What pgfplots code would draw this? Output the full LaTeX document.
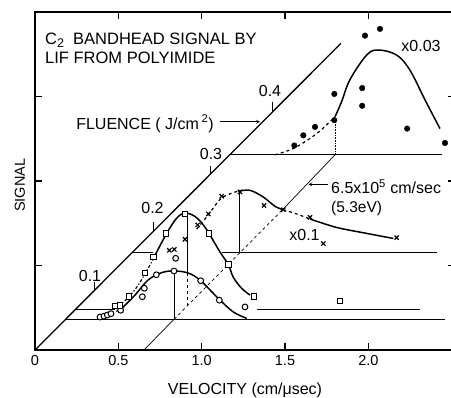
\documentclass[border=0pt]{standalone}
\usepackage{pgfplots}
\pgfplotsset{compat=1.18}
\usepackage{fontspec}
\setmainfont{Liberation Sans}
\newcommand\fa{\fontsize{16.5}{19}\selectfont}
\newcommand\fb{\fontsize{16}{19}\selectfont}
\newcommand\fc{\fontsize{14.5}{17}\selectfont}
\begin{document}
\begin{tikzpicture}[x=1pt,y=1pt]
\path[use as bounding box] (0,0) rectangle (451,398);
\clip (0,0) rectangle (451,398);
\begin{axis}[
  at={(35pt,48pt)}, anchor=south west,
  scale only axis, width=420pt, height=338pt,
  xmin=0, xmax=2.52, ymin=0, ymax=4,
  clip=false,
  axis line style={line width=1.3pt},
  tick align=inside,
  major tick length=7pt,
  tick style={line width=1.1pt, black},
  xtick={0,0.5,1,1.5,2},
  xticklabels={0,0.5,1.0,1.5,2.0},
  ytick={1,2,3}, yticklabels={},
  /pgf/number format/assume math mode=true,
  ticklabel style={font=\fc},
  xticklabel style={yshift=-2pt},
]
% fluence diagonal
\addplot[black, line width=1.3pt] coordinates {(0,0) (1.836,3.63)};
% fluence ticks
\addplot[black, line width=1pt] coordinates {(0.356,0.704) (0.356,0.81)};
\addplot[black, line width=1pt] coordinates {(0.71,1.404) (0.71,1.52)};
\addplot[black, line width=1pt] coordinates {(1.055,2.086) (1.055,2.18)};
\addplot[black, line width=1pt] coordinates {(1.426,2.819) (1.426,2.93)};
% baselines
\addplot[black, line width=0.9pt] coordinates {(0.185,0.365) (2.46,0.365)};
\addplot[black, line width=0.9pt] coordinates {(0.243,0.48) (0.48,0.48)};
\addplot[black, line width=0.9pt] coordinates {(1.33,0.48) (2.31,0.48)};
\addplot[black, line width=0.9pt] coordinates {(0.582,1.15) (0.71,1.15)};
\addplot[black, line width=0.9pt] coordinates {(1.12,1.15) (2.41,1.15)};
\addplot[black, line width=0.9pt] coordinates {(1.168,2.31) (2.44,2.31)};
% 6.5e5 cm/sec line
\addplot[black, line width=0.7pt] coordinates {(0.654,0) (0.835,0.365)};
\addplot[black, line width=0.7pt, dashed] coordinates {(0.835,0.365) (1.49,1.67)};
\addplot[black, line width=0.7pt] coordinates {(1.49,1.67) (1.80,2.31)};
% verticals
\addplot[black, line width=0.6pt] coordinates {(0.835,0.365) (0.835,0.935)};
\addplot[black, line width=0.6pt, dashed] coordinates {(0.915,0.526) (0.915,0.9)};
\addplot[black, line width=0.6pt] coordinates {(0.915,0.9) (0.915,1.61)};
\addplot[black, line width=0.6pt] coordinates {(1.225,1.15) (1.225,1.88)};
\addplot[black, line width=0.6pt, densely dotted] coordinates {(1.80,2.31) (1.80,2.74)};
% circle curve
\addplot[black, line width=1.2pt, dashed, smooth] coordinates {(0.42,0.41) (0.47,0.44) (0.52,0.49)};
\addplot[black, line width=1.5pt, smooth, tension=0.6] coordinates {(0.52,0.49) (0.60,0.65) (0.68,0.83) (0.76,0.915) (0.834,0.935) (0.92,0.91) (0.994,0.82) (1.10,0.61) (1.19,0.45) (1.27,0.375)};
% square curve
\addplot[black, line width=1.2pt, dashdotted, smooth] coordinates {(0.50,0.52) (0.56,0.62) (0.62,0.77) (0.68,0.97) (0.72,1.12)};
\addplot[black, line width=1.5pt, smooth, tension=0.6] coordinates {(0.72,1.12) (0.79,1.38) (0.85,1.56) (0.90,1.62) (0.96,1.58) (1.01,1.48) (1.044,1.38) (1.11,1.16) (1.16,1.01) (1.19,0.86) (1.24,0.73) (1.29,0.65)};
% x curve
\addplot[black, line width=1.2pt, dashed, smooth] coordinates {(0.97,1.43) (1.04,1.60) (1.12,1.80) (1.22,1.88)};
\addplot[black, line width=1.5pt, smooth] coordinates {(1.22,1.88) (1.29,1.89) (1.37,1.81) (1.44,1.70) (1.49,1.66)};
\addplot[black, line width=1.2pt, dashed, smooth] coordinates {(1.49,1.66) (1.57,1.61) (1.65,1.55)};
\addplot[black, line width=1.5pt, smooth] coordinates {(1.65,1.55) (1.81,1.45) (1.99,1.38) (2.15,1.32)};
% dot curve
\addplot[black, line width=1.2pt, dashed, smooth] coordinates {(1.44,2.31) (1.556,2.39) (1.69,2.56) (1.80,2.76)};
\addplot[black, line width=1.5pt, smooth, tension=0.6] coordinates {(1.80,2.76) (1.84,2.94) (1.89,3.20) (1.99,3.49) (2.06,3.55) (2.17,3.49) (2.25,3.31) (2.34,2.96) (2.43,2.62)};
% data: circles
\addplot[only marks, mark=*, mark size=2.9pt, mark options={fill=white, draw=black, line width=1pt}] coordinates {
(0.39,0.39) (0.414,0.40) (0.434,0.414) (0.456,0.43) (0.514,0.47) (0.644,0.63) (0.656,0.73) (0.728,0.89) (0.834,0.935) (0.844,1.085) (0.994,0.82) (1.106,0.59) (1.26,0.51)};
% data: squares
\addplot[only marks, mark=square*, mark size=2.8pt, mark options={fill=white, draw=black, line width=1pt}] coordinates {
(0.48,0.52) (0.51,0.53) (0.564,0.63) (0.66,0.91) (0.71,1.10) (0.786,1.38) (0.90,1.61) (1.044,1.38) (1.16,1.01) (1.314,0.63) (1.83,0.58)};
% data: crosses
\addplot[only marks, mark=x, mark size=3pt, mark options={draw=black, line width=1.2pt}] coordinates {
(0.806,1.18) (0.836,1.19) (0.90,1.31) (0.976,1.48) (1.04,1.61) (1.12,1.82) (1.23,1.87) (1.374,1.71) (1.49,1.66) (1.65,1.57) (1.73,1.26) (2.17,1.33)};
% data: dots
\addplot[only marks, mark=*, mark size=2.8pt, mark options={fill=black, draw=black}] coordinates {
(1.556,2.42) (1.61,2.54) (1.68,2.64) (1.796,2.72) (1.796,3.03) (1.963,3.10) (1.963,2.89) (1.98,3.72) (2.07,3.80) (2.233,2.62) (2.46,2.45)};
% texts
\node[anchor=base west, inner sep=0pt, font=\fa] at (axis cs:0.06,3.621) {C\raisebox{-0.45ex}{\fontsize{12.5}{12}\selectfont 2}\ \ BANDHEAD SIGNAL BY};
\node[anchor=base west, inner sep=0pt, font=\fa] at (axis cs:0.06,3.393) {LIF FROM POLYIMIDE};
\node[anchor=base, inner sep=0pt, font=\fb] at (axis cs:0.33,0.81) {0.1};
\node[anchor=base, inner sep=0pt, font=\fb] at (axis cs:0.705,1.62) {0.2};
\node[anchor=base, inner sep=0pt, font=\fb] at (axis cs:1.056,2.25) {0.3};
\node[anchor=base, inner sep=0pt, font=\fb] at (axis cs:1.41,3.0) {0.4};
\node[anchor=base, inner sep=0pt, font=\fb] at (axis cs:0.66,2.615) {FLUENCE ( J/cm\,\textsuperscript{2})};
\draw[->, line width=0.7pt, >=stealth] (axis cs:1.11,2.70) -- (axis cs:1.35,2.70);
\node[anchor=base west, inner sep=0pt, font=\fb] at (axis cs:1.776,1.85) {6.5x10\textsuperscript{5} cm/sec};
\node[anchor=base west, inner sep=0pt, font=\fontsize{15.5}{18}\selectfont] at (axis cs:1.776,1.625) {(5.3eV)};
\draw[->, line width=0.7pt, >=stealth] (axis cs:1.76,1.96) -- (axis cs:1.64,1.96);
\node[anchor=base, inner sep=0pt, font=\fb] at (axis cs:1.617,1.30) {x0.1};
\node[anchor=base, inner sep=0pt, font=\fb] at (axis cs:2.316,3.53) {x0.03};
\node[rotate=90, anchor=base, inner sep=0pt, font=\fontsize{14.5}{17}\selectfont] at (axis cs:-0.06,1.95) {SIGNAL};
\node[anchor=base, inner sep=0pt, font=\fb] at (axis cs:1.26,-0.524) {VELOCITY (cm/μsec)};
\end{axis}
\end{tikzpicture}
\end{document}
